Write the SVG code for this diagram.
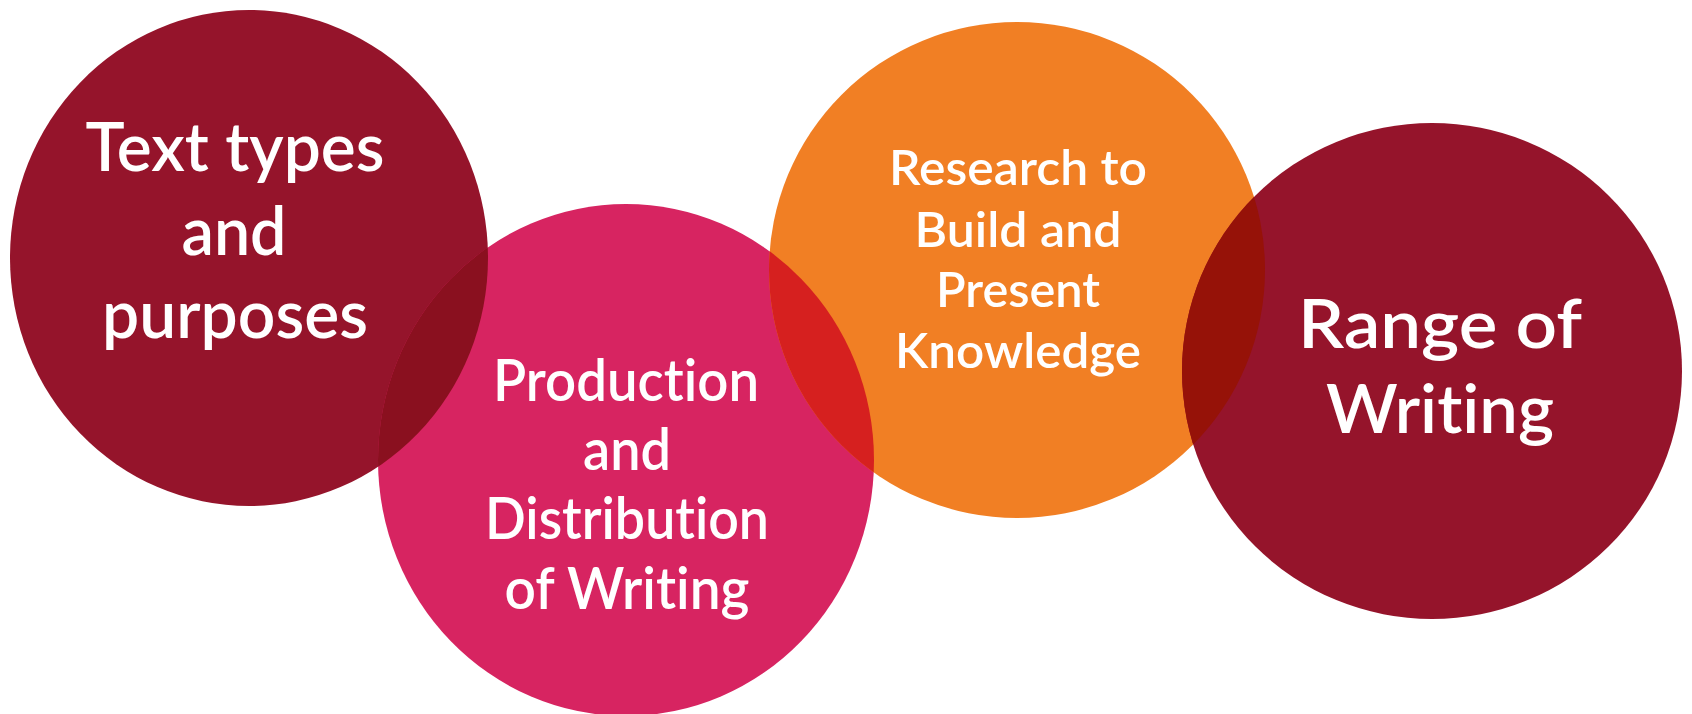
<svg xmlns="http://www.w3.org/2000/svg" width="1692" height="714" viewBox="0 0 1692 714">
  <style>
    .lbl { font-family: Lato, "Open Sans", "Liberation Sans", sans-serif; font-weight: 600; fill: #ffffff; text-anchor: middle; font-variant-ligatures: none; font-feature-settings: "liga" 0, "clig" 0, "dlig" 0; }
  </style>
  <defs>
    <clipPath id="c1"><ellipse cx="249" cy="258" rx="239" ry="248"/></clipPath>
    <clipPath id="c3"><ellipse cx="1017" cy="270" rx="248" ry="248"/></clipPath>
  </defs>
  <rect width="1692" height="714" fill="#ffffff"/>
  <g id="node-text-types">
    <ellipse cx="249" cy="258" rx="239" ry="248" fill="#95142B"/>
  </g>
  <g id="node-production">
    <ellipse cx="626" cy="460" rx="248" ry="256" fill="#D72461"/>
    <ellipse cx="626" cy="460" rx="248" ry="256" fill="#8A101F" clip-path="url(#c1)"/>
  </g>
  <g id="node-research">
    <ellipse cx="1017" cy="270" rx="248" ry="248" fill="#F17F24"/>
    <ellipse cx="626" cy="460" rx="248" ry="256" fill="#D6201F" clip-path="url(#c3)"/>
  </g>
  <g id="node-range">
    <ellipse cx="1432" cy="371" rx="250" ry="248" fill="#95142B"/>
    <ellipse cx="1432" cy="371" rx="250" ry="248" fill="#961208" clip-path="url(#c3)"/>
  </g>
  <g id="labels">
    <text class="lbl" font-size="68" x="235" y="171" textLength="299" lengthAdjust="spacingAndGlyphs">Text types</text>
    <text class="lbl" font-size="68" x="234" y="255" textLength="105" lengthAdjust="spacingAndGlyphs">and</text>
    <text class="lbl" font-size="68" x="235" y="338" textLength="266" lengthAdjust="spacingAndGlyphs">purposes</text>
    <text class="lbl" font-size="57" x="626" y="401" textLength="266" lengthAdjust="spacingAndGlyphs">Production</text>
    <text class="lbl" font-size="57" x="627" y="470" textLength="88" lengthAdjust="spacingAndGlyphs">and</text>
    <text class="lbl" font-size="57" x="627" y="539" textLength="284" lengthAdjust="spacingAndGlyphs">Distribution</text>
    <text class="lbl" font-size="57" x="627" y="609" textLength="245" lengthAdjust="spacingAndGlyphs">of Writing</text>
    <text class="lbl" font-size="48" x="1018" y="185" textLength="258" lengthAdjust="spacingAndGlyphs">Research to</text>
    <text class="lbl" font-size="48" x="1018" y="247" textLength="207" lengthAdjust="spacingAndGlyphs">Build and</text>
    <text class="lbl" font-size="48" x="1018" y="307" textLength="164" lengthAdjust="spacingAndGlyphs">Present</text>
    <text class="lbl" font-size="48" x="1018" y="368" textLength="246" lengthAdjust="spacingAndGlyphs">Knowledge</text>
    <text class="lbl" font-size="67" x="1440" y="348" textLength="284" lengthAdjust="spacingAndGlyphs">Range of</text>
    <text class="lbl" font-size="67" x="1440" y="433" textLength="228" lengthAdjust="spacingAndGlyphs">Writing</text>
  </g>
  <g id="connectors"/>
</svg>
